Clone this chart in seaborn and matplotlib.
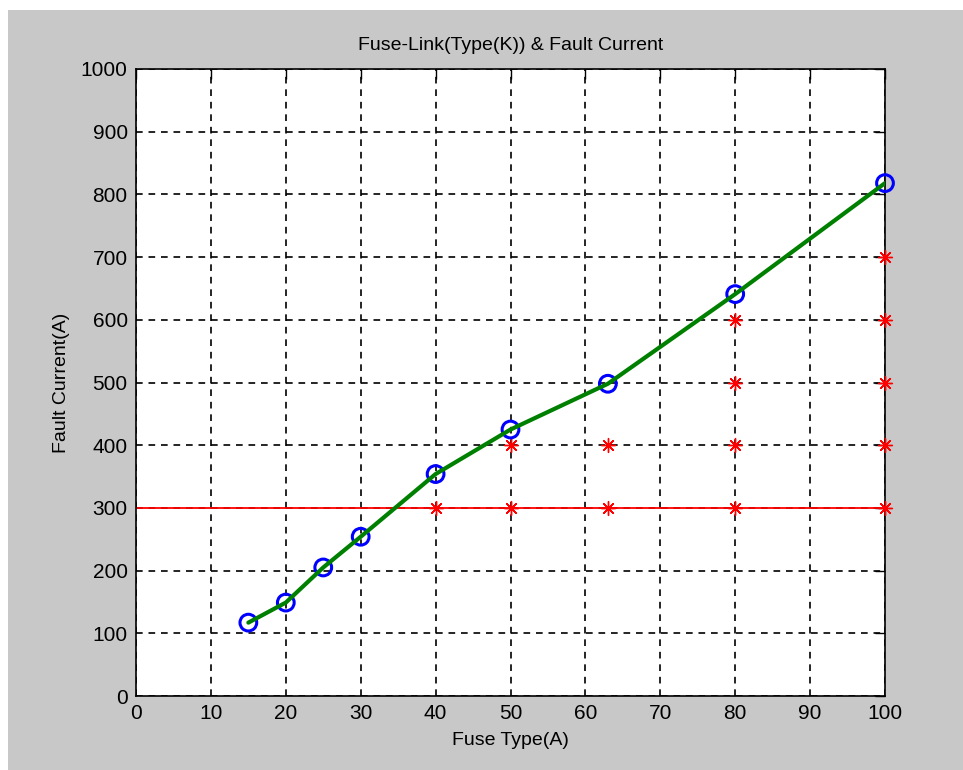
import matplotlib
matplotlib.use("Agg")
import matplotlib.pyplot as plt
import seaborn as sns
import pandas as pd
from matplotlib.patches import Rectangle

# Data
fuse_types = [15, 20, 25, 30, 40, 50, 63, 80, 100]
fault_current = [117, 149, 205, 254, 354, 425, 498, 641, 818]

star_x = [40, 50, 50, 63, 63, 80, 80, 80, 80, 100, 100, 100, 100, 100]
star_y = [300, 300, 400, 300, 400, 300, 400, 500, 600, 300, 400, 500, 600, 700]

limit_level = 300
x_ticks = [0, 10, 20, 30, 40, 50, 60, 70, 80, 90, 100]
y_ticks = [0, 100, 200, 300, 400, 500, 600, 700, 800, 900, 1000]

sns.set_style("white")
plt.rcParams['font.family'] = ['Liberation Sans Narrow', 'Liberation Sans', 'DejaVu Sans']
plt.rcParams['text.color'] = 'black'
plt.rcParams['axes.labelcolor'] = 'black'

fig = plt.figure(figsize=(9.63, 7.7), dpi=100, facecolor='white')
fig.patches.append(Rectangle((8/963, 0), 1 - 8/963, 1 - 10/770, transform=fig.transFigure,
                             facecolor='#c8c8c8', edgecolor='none', zorder=-10))
ax = fig.add_axes([136/963, 1 - 696/770, (885 - 136)/963, (696 - 69)/770])
ax.set_facecolor('white')

df = pd.DataFrame({'x': fuse_types, 'y': fault_current})
stars = pd.DataFrame({'x': star_x, 'y': star_y})

ax.axhline(limit_level, color='red', lw=1.3, zorder=2)
sns.scatterplot(data=stars, x='x', y='y', ax=ax, marker=(8, 2, 0), s=100,
                color='red', edgecolor='red', linewidth=1.0, zorder=3, clip_on=False)
sns.scatterplot(data=df, x='x', y='y', ax=ax, marker='o', s=145, facecolor='none',
                edgecolor='blue', linewidth=2.2, zorder=4, clip_on=False)
sns.lineplot(data=df, x='x', y='y', ax=ax, color='#008000', lw=3, zorder=5,
             sort=False, estimator=None)

ax.set_xlim(0, 100)
ax.set_ylim(0, 1000)
ax.set_xticks(x_ticks)
ax.set_yticks(y_ticks)
ax.set_xticklabels([str(v) for v in x_ticks])
ax.set_yticklabels([str(v) for v in y_ticks])
ax.grid(True, color='black', linestyle=(0, (4, 3.5)), lw=1.2)
ax.tick_params(direction='in', length=7, width=1, top=True, right=True,
               labelsize=15, colors='black', pad=6)
for sp in ax.spines.values():
    sp.set_visible(True)
    sp.set_color('black')
    sp.set_linewidth(1.2)

ax.set_title('Fuse-Link(Type(K)) & Fault Current', fontsize=14, pad=14, color='black')
ax.set_xlabel('Fuse Type(A)', fontsize=14, labelpad=6, color='black')
ax.set_ylabel('Fault Current(A)', fontsize=14, labelpad=8, color='black')

fig.savefig('out.png', dpi=100, facecolor=fig.get_facecolor())
